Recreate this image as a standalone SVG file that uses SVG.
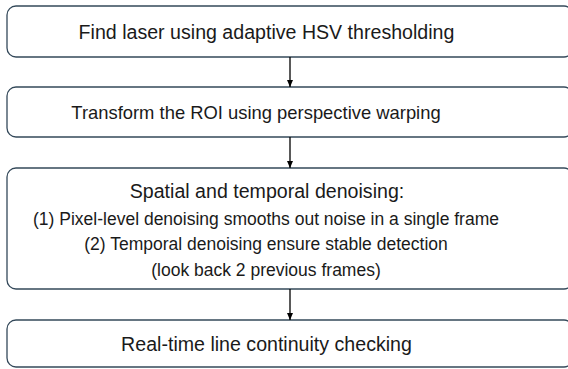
<svg xmlns="http://www.w3.org/2000/svg" width="568" height="369" viewBox="0 0 568 369">
  <defs>
    <marker id="arrow" markerWidth="8" markerHeight="8" refX="7" refY="4" orient="auto" markerUnits="userSpaceOnUse">
      <path d="M0,1 L7,4 L0,7 Z" fill="#000"/>
    </marker>
    <style>
      .box { fill: #fff; stroke: #34495a; stroke-width: 1.3; }
      .t { font-family: "Liberation Sans", Arial, sans-serif; fill: #1a1a1a; text-anchor: middle; }
      .h { font-size: 19.6px; }
      .h2 { font-size: 18.4px; }
      .s { font-size: 17.5px; }
      .conn { stroke: #000; stroke-width: 1.3; fill: none; }
    </style>
  </defs>
  <rect width="568" height="369" fill="#fff"/>

  <g id="step1">
    <rect class="box" x="7" y="6" width="566" height="51" rx="9"/>
    <text class="t h" x="266.5" y="38.5">Find laser using adaptive HSV thresholding</text>
  </g>

  <g id="step2">
    <rect class="box" x="7" y="87" width="566" height="50" rx="9"/>
    <text class="t h2" x="256" y="118.5">Transform the ROI using perspective warping</text>
  </g>

  <g id="step3">
    <rect class="box" x="7" y="168" width="566" height="121" rx="9"/>
    <text class="t h" x="267" y="197.5">Spatial and temporal denoising:</text>
    <text class="t s" x="266" y="225">(1) Pixel-level denoising smooths out noise in a single frame</text>
    <text class="t s" x="266" y="250">(2) Temporal denoising ensure stable detection</text>
    <text class="t s" x="266" y="276">(look back 2 previous frames)</text>
  </g>

  <g id="step4">
    <rect class="box" x="7" y="320" width="566" height="47" rx="9"/>
    <text class="t h" x="266.5" y="350.5">Real-time line continuity checking</text>
  </g>

  <g id="connectors">
    <line class="conn" x1="290" y1="57" x2="290" y2="87" marker-end="url(#arrow)"/>
    <line class="conn" x1="290" y1="137" x2="290" y2="168" marker-end="url(#arrow)"/>
    <line class="conn" x1="290" y1="289" x2="290" y2="320" marker-end="url(#arrow)"/>
  </g>
</svg>
